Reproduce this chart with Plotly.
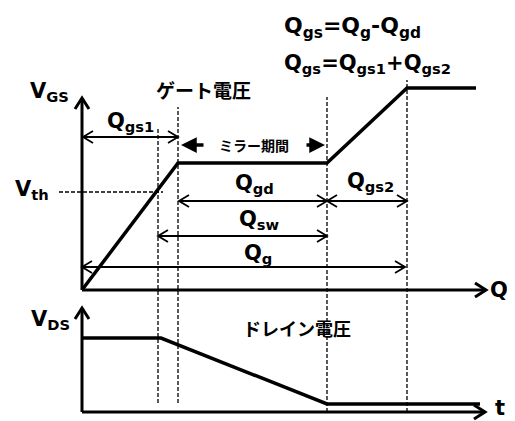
import plotly.graph_objects as go

# gate charge diagram, coordinates in drawing units (x = charge, y = voltage)
vgs_q = [82, 178, 327, 407, 476]
vgs_v = [131, 258, 258, 333, 333]
vds_q = [82, 161, 327, 480]
vds_v = [83, 83, 17, 17]
vth_level = 229
marker_q = [158, 178, 327, 407]
marker_top = [294, 314, 324, 341]
marker_bottom = [18, 18, 9, 9]

# charge spans: (name, start, end, level)
spans = [
    ("Q<sub>gs1</sub>", 83, 178, 284),
    ("Q<sub>gd</sub>", 179, 327, 220),
    ("Q<sub>gs2</sub>", 327, 407, 220),
    ("Q<sub>sw</sub>", 158, 327, 185),
    ("Q<sub>g</sub>", 82, 405, 154),
]

FONT = "DejaVu Sans, Noto Sans CJK JP, sans-serif"
JP = "Noto Sans CJK JP, sans-serif"


def chevron(tip, d, length, half):
    # open arrow head ending at tip, pointing along d
    tx, ty = tip
    dx, dy = d
    nx, ny = -dy, dx
    return (
        [tx - length * dx + half * nx, tx, tx - length * dx - half * nx, None],
        [ty - length * dy + half * ny, ty, ty - length * dy - half * ny, None],
    )


def add_seg(xs, ys, x0, y0, x1, y1):
    xs += [x0, x1, None]
    ys += [y0, y1, None]


fig = go.Figure()

# axes
ax_x, ax_y = [], []
add_seg(ax_x, ax_y, 82, 131, 82, 323)
add_seg(ax_x, ax_y, 82, 131, 486, 131)
add_seg(ax_x, ax_y, 82, 9, 82, 113)
add_seg(ax_x, ax_y, 82, 9, 485, 9)
for tip, d in [((82, 323), (0, 1)), ((486, 131), (1, 0)),
               ((82, 113), (0, 1)), ((485, 9), (1, 0))]:
    cx, cy = chevron(tip, d, 11, 7)
    ax_x += cx
    ax_y += cy
fig.add_trace(go.Scatter(x=ax_x, y=ax_y, mode="lines",
                         line=dict(color="black", width=3), hoverinfo="skip"))

# dashed guides
dx_, dy_ = [], []
for q, t, b in zip(marker_q, marker_top, marker_bottom):
    add_seg(dx_, dy_, q, b, q, t)
add_seg(dx_, dy_, 59, vth_level, 163, vth_level)
fig.add_trace(go.Scatter(x=dx_, y=dy_, mode="lines",
                         line=dict(color="black", width=1.3, dash="4px,2px"),
                         hoverinfo="skip"))

# span arrows
sx, sy = [], []
for _, a, b, lvl in spans:
    add_seg(sx, sy, a, lvl, b, lvl)
    for tip, d in [((a, lvl), (-1, 0)), ((b, lvl), (1, 0))]:
        cx, cy = chevron(tip, d, 10, 6)
        sx += cx
        sy += cy
fig.add_trace(go.Scatter(x=sx, y=sy, mode="lines",
                         line=dict(color="black", width=1.8), hoverinfo="skip"))

# waveforms
fig.add_trace(go.Scatter(x=vgs_q, y=vgs_v, mode="lines",
                         line=dict(color="black", width=3.5), hoverinfo="skip"))
fig.add_trace(go.Scatter(x=vds_q, y=vds_v, mode="lines",
                         line=dict(color="black", width=3.5), hoverinfo="skip"))

ann = []


def label(text, x, y, size=21, anchor="left", family=FONT):
    ann.append(dict(x=x, y=y, text=text, showarrow=False, xanchor=anchor,
                    yanchor="middle", font=dict(size=size, family=family,
                                                color="black", weight="bold")))


label("V<sub>GS</sub>", 28, 329)
label("V<sub>th</sub>", 13, 231)
label("V<sub>DS</sub>", 29, 101)
label("Q", 499, 131, anchor="center")
label("t", 500, 13, anchor="center")
label("ゲート電圧", 203, 332, size=19, anchor="center", family=JP)
label("ドレイン電圧", 297, 93, size=18, anchor="center", family=JP)
label("ミラー期間", 254, 276, size=14, anchor="center", family=JP)
label("Q<sub>gs</sub>=Q<sub>g</sub>-Q<sub>gd</sub>", 282, 394, size=22)
label("Q<sub>gs</sub>=Q<sub>gs1</sub>+Q<sub>gs2</sub>", 282, 357, size=21)
label_pos = {"Q<sub>gs1</sub>": (105, 299), "Q<sub>gd</sub>": (233, 237),
             "Q<sub>gs2</sub>": (345, 239), "Q<sub>sw</sub>": (237, 201),
             "Q<sub>g</sub>": (242, 167)}
for name, _, _, _ in spans:
    label(name, *label_pos[name])

# miller period arrows
for tail, tip in [(205, 181), (305, 325)]:
    ann.append(dict(x=tip, y=276, ax=tail, ay=276, axref="x", ayref="y",
                    xref="x", yref="y", text="", showarrow=True,
                    arrowhead=2, arrowsize=0.9, arrowwidth=3.5,
                    arrowcolor="black"))

# the page body adds an 8px margin, so the figure is 8px smaller and the
# ranges start 8 units in to keep the drawing in place
fig.update_layout(
    width=507, height=413,
    margin=dict(l=0, r=0, t=0, b=0),
    paper_bgcolor="white", plot_bgcolor="white",
    showlegend=False,
    xaxis=dict(range=[8, 515], visible=False, fixedrange=True),
    yaxis=dict(range=[0, 413], visible=False, fixedrange=True),
    annotations=ann,
)
fig.write_html("out.html")
